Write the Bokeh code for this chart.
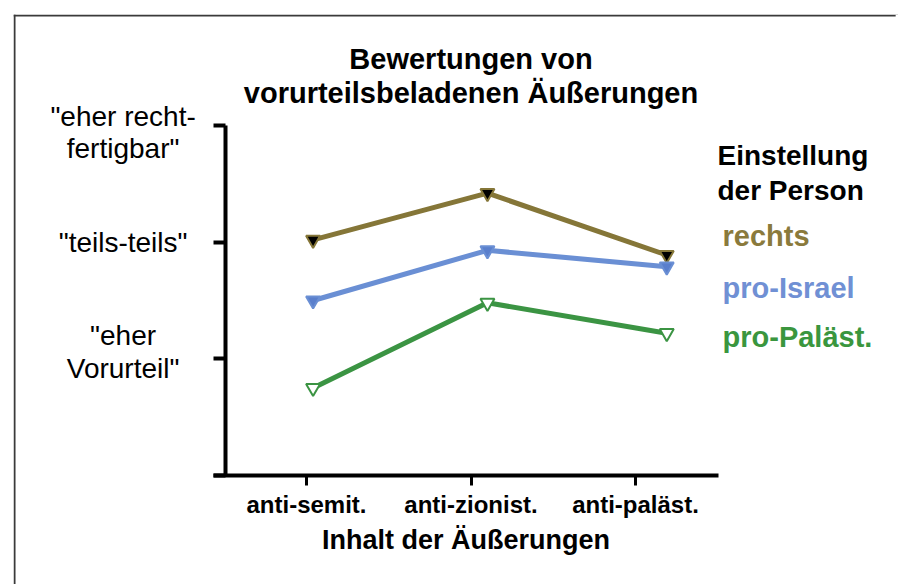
from bokeh.plotting import figure
from bokeh.models import Range1d, LinearAxis, FixedTicker, Span, Label, BoxAnnotation
from bokeh.embed import file_html
from bokeh.resources import INLINE

# ---- data ----
categories = ["anti-semit.", "anti-zionist.", "anti-paläst."]
cat_ticks = [1, 2, 3]
x_pos = [1.04, 2.10, 3.19]          # horizontal position of the points in the picture
series_names = ["rechts", "pro-Israel", "pro-Paläst."]
rechts = [2.02, 2.42, 1.89]
pro_israel = [1.50, 1.93, 1.79]
pro_palaest = [0.75, 1.48, 1.22]
y_ticks = [0, 1, 2, 3]
y_tick_labels = ["", "\"eher\nVorurteil\"", "\"teils-teils\"", "\"eher recht-\nfertigbar\""]
title_text = "Bewertungen von\nvorurteilsbeladenen Äußerungen"
legend_title = "Einstellung\nder Person"
x_title = "Inhalt der Äußerungen"

# ---- styles ----
FONT = "Liberation Sans"
line_colors = ["#857638", "#6a8fd4", "#3b9443"]
text_colors = ["#8a7a3c", "#7090d4", "#3a963e"]
marker_fill = ["#000000", "#5a7fcc", "#ffffff"]
y_label_offsets = [0, 7, 0, -7]

p = figure(width=898, height=584, output_backend="svg", toolbar_location=None,
           x_range=Range1d(-0.7812, 4.5988), y_range=Range1d(-0.9343, 3.9514),
           x_axis_type=None, y_axis_type=None,
           min_border_left=13, min_border_top=14, min_border_right=0, min_border_bottom=0)
p.outline_line_color = None
p.outline_line_alpha = 0
p.outline_line_width = 0
p.background_fill_color = "white"
p.border_fill_color = "white"

# frame border (top and left edges visible in the reference)
p.add_layout(Span(location=-0.775, dimension="height", line_color="#3a3a3a", line_width=2))
p.add_layout(Span(location=3.943, dimension="width", line_color="#3a3a3a", line_width=2))
# keep the right edge clean, as in the reference
p.add_layout(BoxAnnotation(left=4.5815, fill_color="white", fill_alpha=1,
                           line_color=None, level="overlay"))

# axes
xaxis = LinearAxis(fixed_location=0, bounds=(0.435, 3.505),
                   ticker=FixedTicker(ticks=cat_ticks),
                   major_label_overrides={t: c for t, c in zip(cat_ticks, categories)},
                   axis_line_width=4, axis_line_color="black",
                   major_tick_line_width=3, major_tick_out=10, major_tick_in=0,
                   minor_tick_line_color=None,
                   major_label_text_font=FONT, major_label_text_font_style="bold",
                   major_label_text_font_size="24px", major_label_text_color="black",
                   major_label_standoff=6,
                   axis_label=x_title, axis_label_text_font=FONT,
                   axis_label_text_font_style="bold", axis_label_text_font_size="27px",
                   axis_label_text_color="black", axis_label_standoff=3)
p.add_layout(xaxis, "below")

yaxis = LinearAxis(fixed_location=0.508, bounds=(0, 3),
                   ticker=FixedTicker(ticks=y_ticks),
                   major_label_overrides={t: "" for t in y_ticks},
                   axis_line_width=4, axis_line_color="black",
                   major_tick_line_width=4, major_tick_out=12, major_tick_in=0,
                   minor_tick_line_color=None)
p.add_layout(yaxis, "left")

# y tick labels (centred text blocks)
for t, lab, off in zip(y_ticks, y_tick_labels, y_label_offsets):
    if lab:
        p.add_layout(Label(x=-0.115, y=t, y_offset=off, text=lab, text_align="center",
                           text_baseline="middle", text_font=FONT,
                           text_font_size="28px", text_color="black",
                           text_line_height=1.05))

# series
for vals, lc, mf in zip([rechts, pro_israel, pro_palaest], line_colors, marker_fill):
    p.line(x_pos, vals, line_color=lc, line_width=5)
    p.scatter(x_pos, vals, marker="inverted_triangle", size=14,
              fill_color=mf, line_color=lc, line_width=2)

# title
p.add_layout(Label(x=2.0, y=3.423, text=title_text, text_align="center",
                   text_baseline="middle", text_font=FONT, text_font_style="bold",
                   text_font_size="29px", text_color="black", text_line_height=1.075))

# legend (coloured text)
p.add_layout(Label(x=3.4985, y=2.593, text=legend_title, text_align="left",
                   text_baseline="middle", text_font=FONT, text_font_style="bold",
                   text_font_size="28px", text_color="black", text_line_height=1.1))
legend_y = [2.057, 1.611, 1.183]
for name, ly, tc in zip(series_names, legend_y, text_colors):
    p.add_layout(Label(x=3.529, y=ly, text=name, text_align="left",
                       text_baseline="middle", text_font=FONT, text_font_style="bold",
                       text_font_size="29px", text_color=tc))

open("out.html", "w").write(file_html(p, INLINE))
